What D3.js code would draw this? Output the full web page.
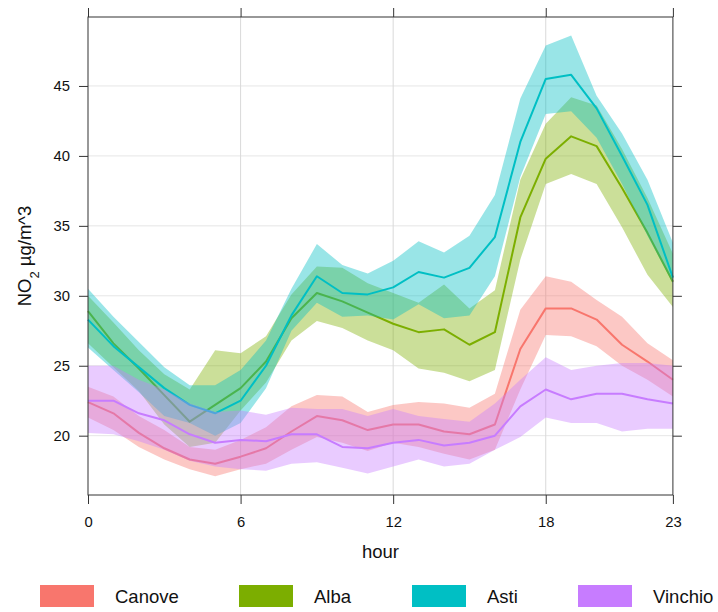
<!DOCTYPE html>
<html>
<head>
<meta charset="utf-8">
<script src="https://cdn.jsdelivr.net/npm/d3@7"></script>
<style>
  html, body { margin: 0; padding: 0; background: #fff; }
  svg { display: block; font-family: "Liberation Sans", Arial, sans-serif; }
</style>
</head>
<body>
<svg id="chart" width="718" height="612"></svg>
<script>
// Hourly NO2 profile by site: mean with confidence band
const hours = d3.range(0, 24);
const sites = ["Canove", "Alba", "Asti", "Vinchio"];
const siteColors = ["#F8766D", "#7CAE00", "#00BFC4", "#C77CFF"];

const canoveMean  = [22.4, 21.6, 20.2, 19.1, 18.3, 18.0, 18.5, 19.1, 20.3, 21.4, 21.1, 20.4, 20.8, 20.8, 20.3, 20.1, 20.8, 26.2, 29.1, 29.1, 28.3, 26.5, 25.3, 24.0];
const canoveLower = [21.3, 20.4, 19.2, 18.3, 17.6, 17.1, 17.6, 18.0, 19.0, 19.9, 19.5, 18.9, 19.5, 19.2, 18.7, 18.3, 19.0, 23.3, 27.2, 27.1, 26.4, 25.0, 24.0, 22.8];
const canoveUpper = [23.5, 22.8, 21.4, 20.4, 19.2, 19.0, 19.7, 20.6, 22.1, 22.9, 22.8, 21.7, 22.2, 22.4, 22.3, 22.0, 23.0, 29.0, 31.4, 31.0, 29.7, 28.5, 26.6, 25.4];

const albaMean  = [28.9, 26.6, 24.8, 22.9, 21.0, 22.2, 23.4, 25.3, 28.4, 30.2, 29.6, 28.8, 28.0, 27.4, 27.6, 26.5, 27.4, 35.6, 39.8, 41.4, 40.7, 37.7, 34.5, 31.0];
const albaLower = [26.6, 24.9, 23.2, 20.8, 19.2, 19.5, 21.8, 23.8, 26.8, 28.2, 27.7, 26.8, 26.1, 24.8, 24.5, 23.9, 24.7, 32.6, 38.0, 38.7, 38.0, 34.9, 31.5, 29.2];
const albaUpper = [30.0, 28.1, 26.1, 24.4, 23.3, 26.1, 25.9, 27.1, 30.1, 32.1, 32.0, 30.9, 30.2, 29.5, 30.8, 29.1, 30.4, 38.3, 42.3, 44.2, 43.6, 40.5, 37.0, 33.0];

const astiMean  = [28.3, 26.4, 24.9, 23.4, 22.2, 21.6, 22.5, 25.0, 28.6, 31.4, 30.2, 30.1, 30.6, 31.7, 31.3, 32.0, 34.2, 41.0, 45.5, 45.8, 43.4, 40.0, 36.5, 31.3];
const astiLower = [26.3, 24.7, 23.1, 21.4, 20.9, 20.0, 20.9, 23.4, 27.5, 29.5, 28.5, 28.6, 28.3, 29.4, 28.4, 28.6, 31.4, 38.5, 43.0, 43.2, 41.3, 38.0, 34.3, 30.9];
const astiUpper = [30.5, 28.5, 26.7, 24.9, 23.6, 23.6, 24.7, 26.8, 30.5, 33.7, 32.2, 31.6, 32.5, 33.9, 33.1, 34.3, 37.2, 44.1, 47.9, 48.6, 44.3, 41.6, 38.3, 33.8];

const vinchioMean  = [22.5, 22.5, 21.6, 21.1, 20.1, 19.5, 19.7, 19.6, 20.1, 20.1, 19.2, 19.1, 19.5, 19.7, 19.3, 19.5, 20.0, 22.1, 23.3, 22.6, 23.0, 23.0, 22.6, 22.3];
const vinchioLower = [20.2, 20.1, 19.6, 19.0, 18.2, 17.8, 17.6, 17.5, 18.0, 18.1, 17.7, 17.3, 17.8, 18.3, 17.8, 18.0, 19.0, 19.9, 21.3, 20.9, 20.9, 20.3, 20.5, 20.5];
const vinchioUpper = [25.0, 25.0, 24.0, 23.3, 22.3, 21.7, 21.8, 21.5, 22.0, 21.9, 21.9, 21.4, 21.9, 21.4, 21.2, 21.0, 22.3, 24.0, 25.6, 24.7, 25.0, 25.2, 25.2, 25.0];

const xTicks = [0, 6, 12, 18, 23];
const yTicks = [20, 25, 30, 35, 40, 45];

const series = [
  { name: sites[0], color: siteColors[0], mean: canoveMean,  lower: canoveLower,  upper: canoveUpper },
  { name: sites[1], color: siteColors[1], mean: albaMean,    lower: albaLower,    upper: albaUpper },
  { name: sites[2], color: siteColors[2], mean: astiMean,    lower: astiLower,    upper: astiUpper },
  { name: sites[3], color: siteColors[3], mean: vinchioMean, lower: vinchioLower, upper: vinchioUpper }
];

const svg = d3.select("#chart");
const panel = { left: 88, right: 672.9, top: 17, bottom: 495 };

const x = d3.scaleLinear().domain([0, 23]).range([panel.left, panel.right]);
const y = d3.scaleLinear().domain([15.76, 49.93]).range([panel.bottom, panel.top]);

// grid
const grid = svg.append("g");
grid.selectAll("line.h").data(yTicks).join("line")
  .attr("x1", panel.left).attr("x2", panel.right)
  .attr("y1", d => y(d)).attr("y2", d => y(d))
  .attr("stroke", "#e6e6e6").attr("stroke-width", 1);
grid.selectAll("line.v").data(xTicks.filter(d => d > 0 && d < 23)).join("line")
  .attr("y1", panel.top).attr("y2", panel.bottom)
  .attr("x1", d => x(d)).attr("x2", d => x(d))
  .attr("stroke", "#d9d9d9").attr("stroke-width", 1);

// bands and mean lines, drawn site by site
const area = d3.area()
  .x((d, i) => x(hours[i]))
  .y0(d => y(d[0]))
  .y1(d => y(d[1]));
const line = d3.line()
  .x((d, i) => x(hours[i]))
  .y(d => y(d));

const plot = svg.append("g");
series.forEach(s => {
  const band = s.lower.map((lo, i) => [lo, s.upper[i]]);
  plot.append("path")
    .attr("d", area(band))
    .attr("fill", s.color)
    .attr("fill-opacity", 0.4)
    .attr("stroke", "none");
  plot.append("path")
    .attr("d", line(s.mean))
    .attr("fill", "none")
    .attr("stroke", s.color)
    .attr("stroke-width", 2)
    .attr("stroke-linejoin", "round");
});

// axes on all four sides, labels on left and bottom only
const axisColor = "#333";
const tickFont = 14.8;
function styleAxis(g) {
  g.select(".domain").remove();
  g.selectAll(".tick line").attr("stroke", axisColor);
  g.selectAll(".tick text").attr("fill", "#111").style("font-size", tickFont + "px")
    .style("font-family", "'Liberation Sans', Arial, sans-serif");
}
svg.append("g").attr("transform", `translate(0,${panel.bottom})`)
  .call(d3.axisBottom(x).tickValues(xTicks).tickSize(9).tickPadding(12).tickFormat(d3.format("d")))
  .call(styleAxis);
svg.append("g").attr("transform", `translate(0,${panel.top})`)
  .call(d3.axisTop(x).tickValues(xTicks).tickSize(9).tickFormat(""))
  .call(styleAxis);
svg.append("g").attr("transform", `translate(${panel.left},0)`)
  .call(d3.axisLeft(y).tickValues(yTicks).tickSize(9).tickPadding(9).tickFormat(d3.format("d")))
  .call(styleAxis);
svg.append("g").attr("transform", `translate(${panel.right},0)`)
  .call(d3.axisRight(y).tickValues(yTicks).tickSize(9).tickFormat(""))
  .call(styleAxis);

svg.append("rect")
  .attr("x", panel.left).attr("y", panel.top)
  .attr("width", panel.right - panel.left).attr("height", panel.bottom - panel.top)
  .attr("fill", "none").attr("stroke", axisColor).attr("stroke-width", 1);

// axis titles
const titleFont = "18.5px";
svg.append("text")
  .attr("x", (panel.left + panel.right) / 2).attr("y", 558)
  .attr("text-anchor", "middle")
  .style("font-size", titleFont).attr("fill", "#111")
  .text("hour");

const yTitle = svg.append("text")
  .attr("transform", `translate(31,${(panel.top + panel.bottom) / 2}) rotate(-90)`)
  .attr("text-anchor", "middle")
  .style("font-size", titleFont).attr("fill", "#111");
yTitle.append("tspan").text("NO");
yTitle.append("tspan").attr("baseline-shift", "sub").style("font-size", "13px").text("2");
yTitle.append("tspan").text(" µg/m^3");

// legend
const legendX = [40, 239, 412, 578];
const legend = svg.append("g");
series.forEach((s, i) => {
  legend.append("rect")
    .attr("x", legendX[i]).attr("y", 585)
    .attr("width", 54).attr("height", 22)
    .attr("fill", s.color);
  legend.append("text")
    .attr("x", legendX[i] + 75).attr("y", 603)
    .style("font-size", titleFont).attr("fill", "#111")
    .text(s.name);
});
</script>
</body>
</html>
